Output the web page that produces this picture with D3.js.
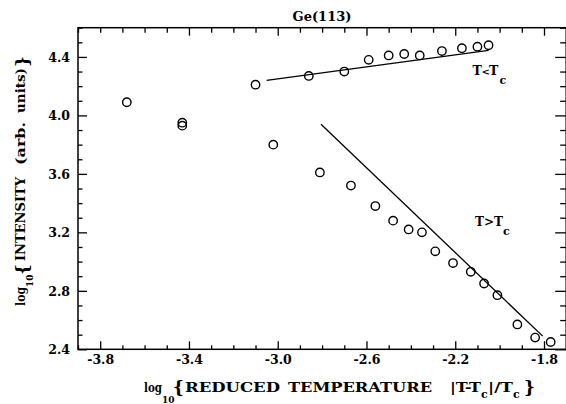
<!DOCTYPE html>
<html><head><meta charset="utf-8">
<script src="https://cdn.jsdelivr.net/npm/d3@7"></script>
<style>
body{margin:0;background:#fff}
svg{display:block}
text{font-family:"DejaVu Serif",serif;font-weight:bold;fill:#000}
</style>
</head><body>
<svg id="c" width="566" height="404"></svg>
<script>
// ---- data ----
const xMajorTicks = [-3.8, -3.4, -3.0, -2.6, -2.2, -1.8];
const yMajorTicks = [2.4, 2.8, 3.2, 3.6, 4.0, 4.4];
const xTopMajorTicks = [-3.4, -3.0, -2.6, -2.2, -1.8];
// T < Tc branch
const belowTcX = [-3.10, -2.86, -2.70, -2.59, -2.50, -2.43, -2.36, -2.26, -2.17, -2.10, -2.05];
const belowTcY = [4.21, 4.27, 4.30, 4.38, 4.41, 4.42, 4.41, 4.44, 4.46, 4.47, 4.48];
// T > Tc branch
const aboveTcX = [-3.68, -3.43, -3.43, -3.02, -2.81, -2.67, -2.56, -2.48, -2.41, -2.35, -2.29, -2.21, -2.13, -2.07, -2.01, -1.92, -1.84, -1.77];
const aboveTcY = [4.09, 3.95, 3.93, 3.80, 3.61, 3.52, 3.38, 3.28, 3.22, 3.20, 3.07, 2.99, 2.93, 2.85, 2.77, 2.57, 2.48, 2.45];
// fit lines
const fitBelowX = [-3.05, -2.05];
const fitBelowY = [4.24, 4.445];
const fitAboveX = [-2.805, -1.806];
const fitAboveY = [3.94, 2.49];

// ---- chart ----
const svg = d3.select("#c");
const x = d3.scaleLinear().domain([-3.9, -1.7]).range([78, 566.2]);
const y = d3.scaleLinear().domain([2.4, 4.6]).range([349.3, 27.7]);
const xMinor = d3.range(-39, -16).map(v => v / 10).filter(v => !xMajorTicks.some(m => Math.abs(m - v) < 1e-6));
const xTopMinor = d3.range(-39, -16).map(v => v / 10).filter(v => !xTopMajorTicks.some(m => Math.abs(m - v) < 1e-6));
const yMinor = d3.range(24, 47).map(v => v / 10).filter(v => !yMajorTicks.some(m => Math.abs(m - v) < 1e-6));

function styleAxis(g){ g.select(".domain").remove(); g.selectAll("line").attr("stroke","#000").attr("stroke-width",1.3); }

// bottom
svg.append("g").attr("transform",`translate(0,${y(2.4)})`)
  .call(d3.axisBottom(x).tickValues(xMinor).tickSizeInner(-4).tickSizeOuter(0).tickFormat(""))
  .call(styleAxis);
const bx = svg.append("g").attr("transform",`translate(0,${y(2.4)})`)
  .call(d3.axisBottom(x).tickValues(xMajorTicks).tickSizeInner(-8).tickSizeOuter(0).tickFormat(d => d.toFixed(1)))
  .call(styleAxis);
bx.selectAll("text").attr("y",14.7).attr("dy",null).attr("font-size",12.5)
  .attr("font-family","DejaVu Serif").attr("font-weight","bold").attr("fill","#000");
// top
svg.append("g").attr("transform",`translate(0,${y(4.6)})`)
  .call(d3.axisTop(x).tickValues(xTopMinor).tickSizeInner(-5).tickSizeOuter(0).tickFormat(""))
  .call(styleAxis);
svg.append("g").attr("transform",`translate(0,${y(4.6)})`)
  .call(d3.axisTop(x).tickValues(xTopMajorTicks).tickSizeInner(-8).tickSizeOuter(0).tickFormat(""))
  .call(styleAxis);
// left
svg.append("g").attr("transform",`translate(${x(-3.9)},0)`)
  .call(d3.axisLeft(y).tickValues(yMinor).tickSizeInner(-4.5).tickSizeOuter(0).tickFormat(""))
  .call(styleAxis);
const ly = svg.append("g").attr("transform",`translate(${x(-3.9)},0)`)
  .call(d3.axisLeft(y).tickValues(yMajorTicks).tickSizeInner(-9).tickSizeOuter(0).tickFormat(d => d.toFixed(1)))
  .call(styleAxis);
ly.selectAll("text").attr("x",-8).attr("dy","0.36em").attr("font-size",12.5)
  .attr("font-family","DejaVu Serif").attr("font-weight","bold").attr("fill","#000");
// right
svg.append("g").attr("transform",`translate(${x(-1.7)},0)`)
  .call(d3.axisRight(y).tickValues(yMinor).tickSizeInner(-6).tickSizeOuter(0).tickFormat(""))
  .call(styleAxis);
svg.append("g").attr("transform",`translate(${x(-1.7)},0)`)
  .call(d3.axisRight(y).tickValues(yMajorTicks).tickSizeInner(-11).tickSizeOuter(0).tickFormat(""))
  .call(styleAxis);

// frame
svg.append("rect").attr("x",x(-3.9)).attr("y",y(4.6))
  .attr("width",x(-1.7)-x(-3.9)).attr("height",y(2.4)-y(4.6))
  .attr("fill","none").attr("stroke","#000").attr("stroke-width",1.5);

// fit lines
const line = d3.line().x(d => x(d[0])).y(d => y(d[1]));
svg.append("path").datum(d3.zip(fitBelowX, fitBelowY)).attr("d",line)
  .attr("fill","none").attr("stroke","#000").attr("stroke-width",1.3);
svg.append("path").datum(d3.zip(fitAboveX, fitAboveY)).attr("d",line)
  .attr("fill","none").attr("stroke","#000").attr("stroke-width",1.3);

// points
const pts = d3.zip(belowTcX, belowTcY).concat(d3.zip(aboveTcX, aboveTcY));
svg.append("g").selectAll("circle").data(pts).join("circle")
  .attr("cx", d => x(d[0])).attr("cy", d => y(d[1])).attr("r", 4.2)
  .attr("fill","none").attr("stroke","#000").attr("stroke-width",1.4);

// texts
function t(txt, px, py, size, len, rot){
  const e = svg.append("text").text(txt).attr("font-size", size)
    .attr("transform", `translate(${px},${py})` + (rot ? " rotate(-90)" : ""));
  if (len) e.attr("textLength", len).attr("lengthAdjust","spacingAndGlyphs");
  return e;
}
// title
t("Ge(113)", 322, 21, 13).attr("text-anchor","middle");
// x label
t("log", 144, 392, 13.5, 18);
t("10", 162, 403, 9);
t("{", 173, 393, 17);
t("REDUCED", 185, 392, 13, 95);
t("TEMPERATURE", 288, 392, 13, 144);
t("|T-T", 450, 392, 13, 31);
t("c", 481, 397.5, 11);
t("|/T", 488, 392, 13, 25);
t("c", 513, 397.5, 11);
t("}", 524, 393, 17);
// y label
t("log", 25, 306, 13.5, 19, true);
t("10", 33, 287, 9, null, true);
t("{", 28, 275, 17, null, true);
t("INTENSITY", 25, 261, 13, 84, true);
t("(arb.", 25, 165, 13, 43, true);
t("units)", 25, 113, 13, 45, true);
t("}", 28, 67, 17, null, true);
// branch labels
t("T", 472.5, 75, 12.5);
t("<", 481.5, 75, 10);
t("T", 489, 75, 12.5);
t("c", 499.5, 83.5, 11);
t("T>T", 475, 226, 12.5, 28);
t("c", 503, 235, 11);
</script>
</body></html>
